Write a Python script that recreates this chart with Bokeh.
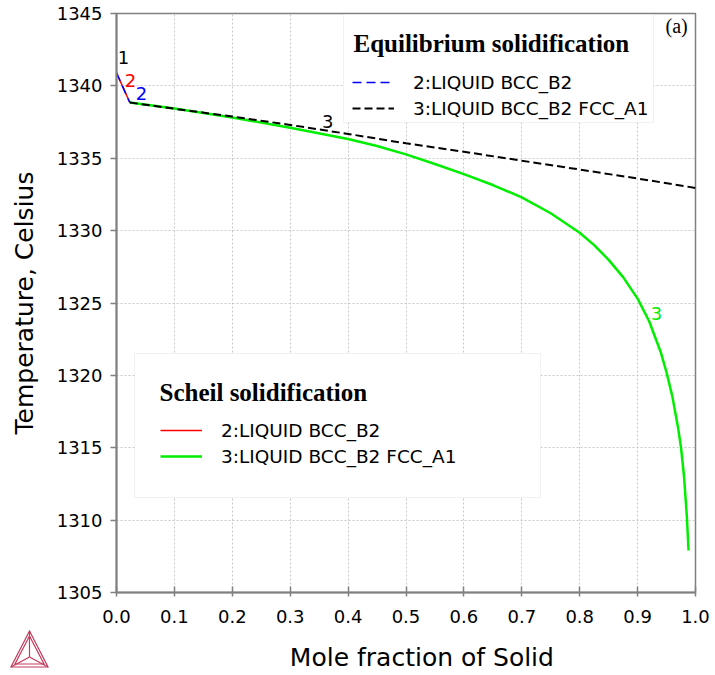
from bokeh.plotting import figure
from bokeh.layouts import column
from bokeh.models import (Range1d, FixedTicker, Label, BoxAnnotation, Legend, LegendItem,
                          PrintfTickFormatter, Div)
from bokeh.embed import file_html
from bokeh.resources import INLINE

# ---------------- data ----------------
x_ticks = [0.0, 0.1, 0.2, 0.3, 0.4, 0.5, 0.6, 0.7, 0.8, 0.9, 1.0]
y_ticks = [1305, 1310, 1315, 1320, 1325, 1330, 1335, 1340, 1345]

# Scheil solidification
scheil2_x = [0.0, 0.023]
scheil2_y = [1340.9, 1338.85]
scheil3_x = [0.023, 0.1, 0.2, 0.3, 0.4, 0.45, 0.5, 0.55, 0.6, 0.65, 0.7, 0.75, 0.8, 0.825,
             0.85, 0.875, 0.9, 0.92, 0.94, 0.95, 0.96, 0.97, 0.975, 0.98, 0.985, 0.988]
scheil3_y = [1338.85, 1338.44, 1337.82, 1337.11, 1336.33, 1335.85, 1335.27, 1334.6, 1333.9,
             1333.15, 1332.3, 1331.2, 1329.85, 1329.0, 1327.98, 1326.79, 1325.3, 1323.74,
             1321.6, 1320.2, 1318.55, 1316.37, 1315.0, 1313.1, 1310.3, 1307.9]

# Equilibrium solidification
eq2_x = [0.0, 0.023]
eq2_y = [1340.9, 1338.85]
eq3_x = [0.023, 0.1, 0.2, 0.3, 0.4, 0.5, 0.6, 0.7, 0.8, 0.9, 1.0]
eq3_y = [1338.85, 1338.42, 1337.88, 1337.3, 1336.68, 1336.03, 1335.45, 1334.83, 1334.22,
         1333.6, 1332.95]

# curve number labels
num_text = ["1", "2", "2", "3", "3"]
num_x = [0.012, 0.024, 0.043, 0.365, 0.9325]
num_y = [1341.95, 1340.4, 1339.5, 1337.57, 1324.3]
num_color = ["black", "#ff0000", "#0000ff", "black", "#00ee00"]

eq_labels = ["2:LIQUID BCC_B2", "3:LIQUID BCC_B2 FCC_A1"]
scheil_labels = ["2:LIQUID BCC_B2", "3:LIQUID BCC_B2 FCC_A1"]

# ---------------- figure ----------------
SANS = "DejaVu Sans"
SERIF = "Liberation Serif"

p = figure(width=715, height=675, output_backend="svg", toolbar_location=None,
           x_range=Range1d(0, 1), y_range=Range1d(1305, 1345),
           min_border_left=116, min_border_top=13, min_border_right=20, min_border_bottom=83)
p.background_fill_color = "white"
p.border_fill_color = "white"
p.outline_line_color = "#808080"
p.outline_line_width = 1.5

p.xaxis.ticker = FixedTicker(ticks=x_ticks)
p.yaxis.ticker = FixedTicker(ticks=y_ticks)
p.xaxis.formatter = PrintfTickFormatter(format="%.1f")
p.yaxis.formatter = PrintfTickFormatter(format="%d")

for ax in (p.xaxis, p.yaxis):
    ax.axis_line_color = "#808080"
    ax.axis_line_width = 2
    ax.major_tick_line_color = "#808080"
    ax.major_tick_line_width = 1.5
    ax.minor_tick_line_color = None
    ax.major_label_text_font = SANS
    ax.major_label_text_color = "black"
    ax.major_label_text_font_size = "18px"
    ax.axis_label_text_font = SANS
    ax.axis_label_text_font_size = "25px"
    ax.axis_label_text_font_style = "normal"
    ax.axis_label_text_color = "black"

p.yaxis.major_tick_in = 0
p.yaxis.major_tick_out = 6
p.yaxis.major_label_standoff = 8
p.yaxis.axis_label = "Temperature, Celsius"
p.yaxis.axis_label_standoff = 15

p.xaxis.major_tick_in = 6
p.xaxis.major_tick_out = 4
p.xaxis.major_label_standoff = 13
# non-breaking spaces nudge the centred title to the right, as in the original
p.xaxis.axis_label = "\u00a0\u00a0\u00a0\u00a0Mole fraction of Solid"
p.xaxis.axis_label_standoff = 17

for g in (p.xgrid, p.ygrid):
    g.grid_line_color = "#c8c8c8"
    g.grid_line_dash = "2 2"
    g.grid_line_width = 1

# ---------------- curves ----------------
r_s2 = p.line(scheil2_x, scheil2_y, line_color="#ff0000", line_width=1.5)
r_s3 = p.line(scheil3_x, scheil3_y, line_color="#00ee00", line_width=2.5)
r_e3 = p.line(eq3_x, eq3_y, line_color="black", line_width=2, line_dash="8 4")
r_e2 = p.line(eq2_x, eq2_y, line_color="#0000ff", line_width=1.5, line_dash="9 5")

for t, xx, yy, c in zip(num_text, num_x, num_y, num_color):
    p.add_layout(Label(x=xx, y=yy, text=t, text_color=c, text_font=SANS,
                       text_font_size="18px", text_align="center", text_baseline="middle"))

# ---------------- legend boxes ----------------
def box(l, r, t, b):
    return BoxAnnotation(left=l, right=r, top=t, bottom=b,
                         left_units="screen", right_units="screen",
                         top_units="screen", bottom_units="screen",
                         fill_color="white", fill_alpha=1.0,
                         line_color="#d0d0d0", line_width=1)


p.add_layout(box(227, 537, 578, 470))
p.add_layout(box(18, 424, 239, 95))

p.add_layout(Label(x=237, y=549, x_units="screen", y_units="screen",
                   text="Equilibrium solidification", text_font=SERIF,
                   text_font_style="bold", text_font_size="25px",
                   text_baseline="middle", text_align="left", text_color="black"))
p.add_layout(Label(x=43, y=200, x_units="screen", y_units="screen",
                   text="Scheil solidification", text_font=SERIF,
                   text_font_style="bold", text_font_size="25px",
                   text_baseline="middle", text_align="left", text_color="black"))


def make_legend(items, loc):
    return Legend(items=items, location=loc, padding=0, margin=0,
                  border_line_alpha=0, background_fill_alpha=0,
                  label_text_font=SANS, label_text_font_size="18.5px",
                  label_text_color="black",
                  glyph_width=42, glyph_height=26, label_height=26,
                  spacing=0, label_standoff=19)


leg_eq = make_legend([LegendItem(label=eq_labels[0], renderers=[r_e2]),
                      LegendItem(label=eq_labels[1], renderers=[r_e3])], (236, 471))
leg_sc = make_legend([LegendItem(label=scheil_labels[0], renderers=[r_s2]),
                      LegendItem(label=scheil_labels[1], renderers=[r_s3])], (44, 123))
p.add_layout(leg_eq)
p.add_layout(leg_sc)

# panel tag
p.add_layout(Label(x=549, y=567, x_units="screen", y_units="screen", text="(a)",
                   text_font=SERIF, text_font_size="20px", text_baseline="middle",
                   text_align="left", text_color="black"))

# logo (decoration, bottom-left corner)
logo_svg = (
    '<svg width="40" height="39" xmlns="http://www.w3.org/2000/svg">'
    '<g fill="none" stroke="#c43a5c" stroke-width="1.2">'
    '<polygon points="19.5,1 1,37 38,37"/>'
    '<polygon points="19.5,6 5,34 34,34"/>'
    '<line x1="19.5" y1="1" x2="19.5" y2="27"/>'
    '<line x1="1" y1="37" x2="19.5" y2="27"/>'
    '<line x1="38" y1="37" x2="19.5" y2="27"/>'
    '</g></svg>'
)
logo = Div(text=logo_svg, width=42, height=40, margin=(-45, 0, 0, 10))

layout = column(p, logo, spacing=0)
open("out.html", "w").write(file_html(layout, INLINE))
